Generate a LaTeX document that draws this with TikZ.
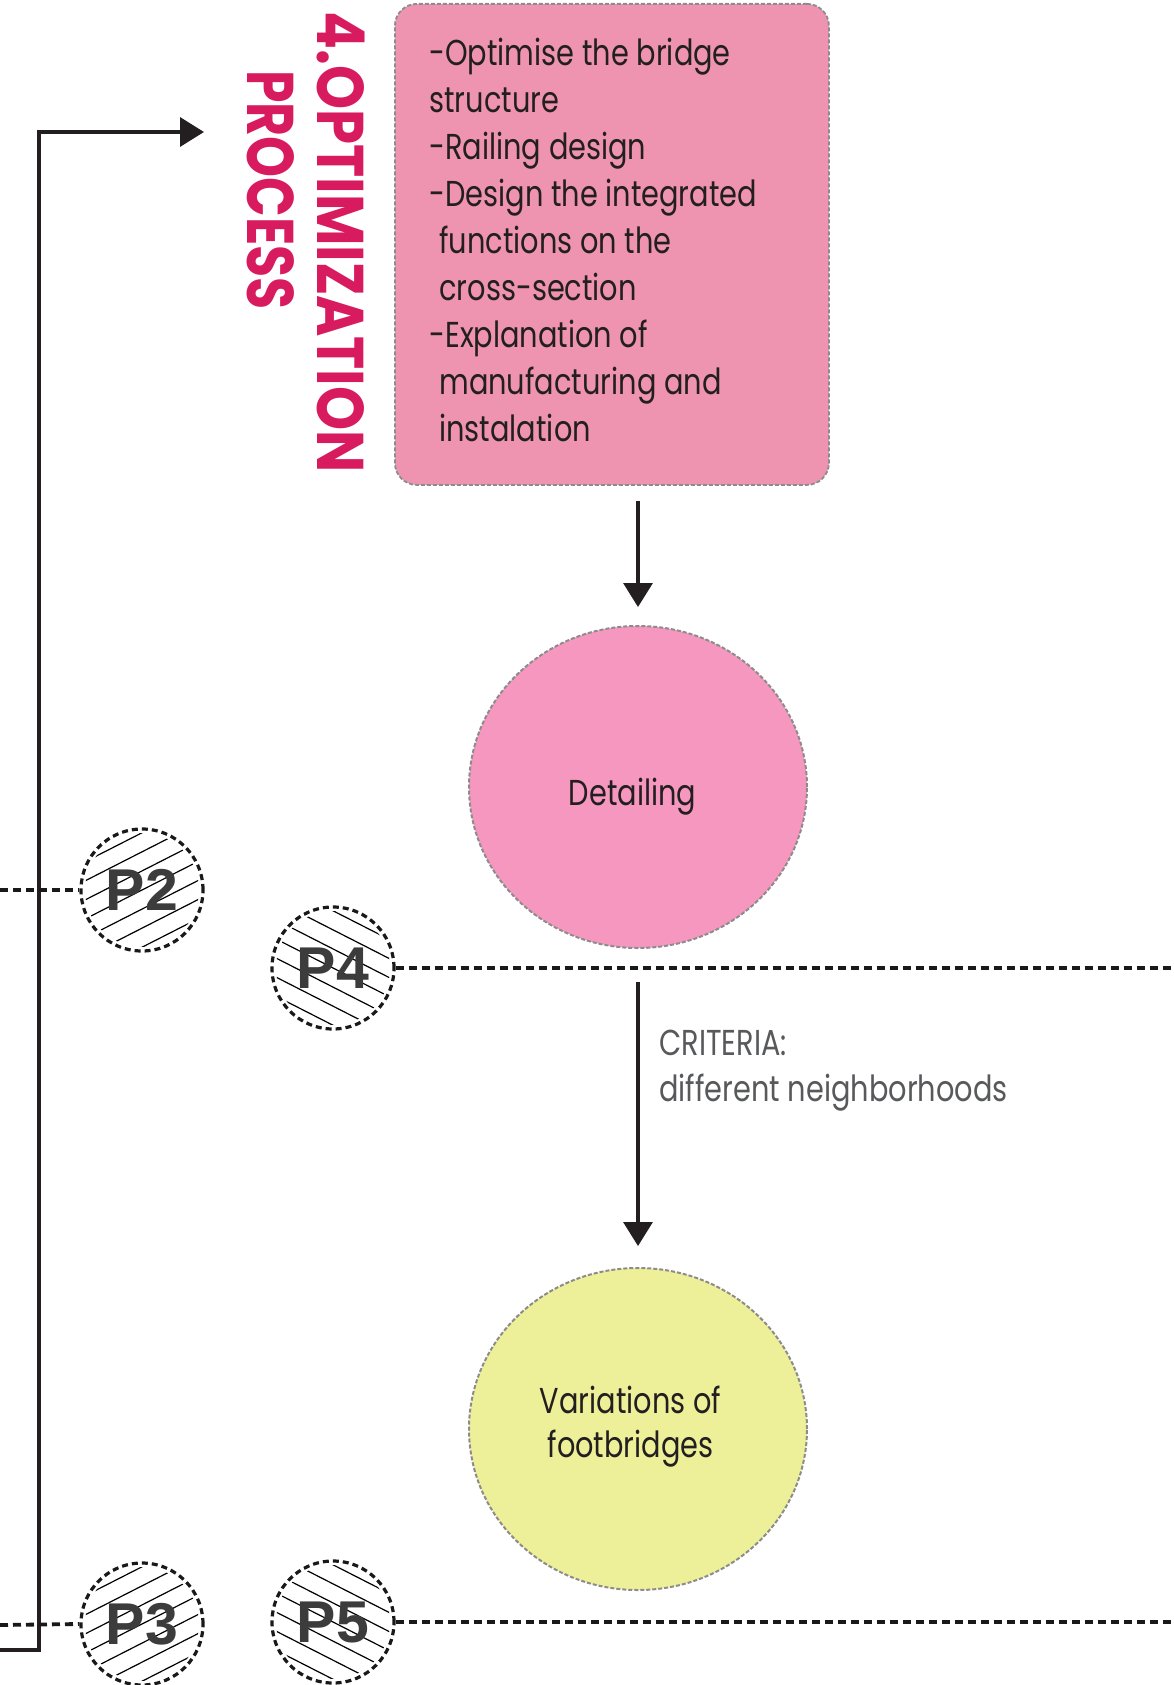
\documentclass[tikz,border=0pt]{standalone}
\usepackage{fontspec}
\setmainfont{Poppins}[FakeStretch=0.80]
\newfontfamily\titlefontA{Poppins}[FakeStretch=0.85]
\newfontfamily\titlefontB{Poppins}[FakeStretch=0.79]
\newfontfamily\pfont{Liberation Sans}
\usetikzlibrary{shapes.geometric,arrows.meta}
\definecolor{boxpink}{HTML}{EE94B0}
\definecolor{detpink}{HTML}{F697C0}
\definecolor{varyel}{HTML}{EDF098}
\definecolor{titlered}{HTML}{D81B5E}
\definecolor{txt}{HTML}{231F20}
\definecolor{crit}{HTML}{58595B}
\definecolor{ptxt}{HTML}{3C3C3C}
\definecolor{bordergray}{HTML}{8C8C8C}
\tikzset{
  arr/.style={line width=1.7pt, draw=txt, -{Triangle[length=12pt,width=14.5pt]}},
  dotline/.style={line width=1.9pt, draw=black!90, dash pattern=on 4pt off 2.5pt},
  pcirc/.style={circle, draw=black!90, line width=1.6pt, dash pattern=on 3pt off 2pt, minimum size=61pt, inner sep=0pt},
  hatch/.style={line width=0.6pt, draw=black},
  bigell/.style={ellipse, draw=bordergray, line width=1pt, dash pattern=on 2pt off 1pt, minimum width=169pt, minimum height=161pt, inner sep=0pt},
  maintext/.style={font=\fontsize{18}{23.5}\selectfont, text=txt, inner sep=0pt},
  ptext/.style={font=\pfont\bfseries\fontsize{29.5}{30}\selectfont, text=ptxt, inner sep=0pt},
  titletext/.style={text=titlered, inner sep=0pt, rotate=-90, anchor=base west}
}
\begin{document}
\begin{tikzpicture}[x=0.5pt,y=-0.5pt]
\useasboundingbox (0,0) rectangle (1173,1685);
% box
\node[draw=bordergray, fill=boxpink, rounded corners=11pt, dash pattern=on 2pt off 1pt, line width=0.9pt, minimum width=217pt, minimum height=240.5pt, anchor=north west, inner sep=0pt] (box) at (394,3) {};
\node[maintext, anchor=base west, align=left] (boxtext) at (429,441.7) {-Optimise the bridge\\
structure\\
-Railing design\\
-Design the integrated\\
\hspace*{5pt}functions on the\\
\hspace*{5pt}cross-section\\
-Explanation of\\
\hspace*{5pt}manufacturing and\\
\hspace*{5pt}instalation};
% title
\node[titletext, font=\titlefontA\bfseries\fontsize{33}{33}\selectfont] (title1) at (317,11) {4.OPTIMIZATION};
\node[titletext, font=\titlefontB\bfseries\fontsize{33}{33}\selectfont] (title2) at (247,70) {PROCESS};
% circles
\node[bigell, fill=detpink] (detailing) at (638,787) {};
\node[maintext, anchor=base] (detailingtext) at (632.5,805) {Detailing};
\node[bigell, fill=varyel] (variations) at (638,1429) {};
\node[maintext, anchor=base, align=center, font=\fontsize{18}{22}\selectfont] (variationstext) at (630.5,1457) {Variations of\\footbridges};
% criteria
\node[maintext, text=crit, anchor=base west, align=left, font=\fontsize{18}{23}\selectfont] (criteria) at (659,1101) {CRITERIA:\\different neighborhoods};
% arrows
\draw[arr] ([yshift=-7.5pt]detailing.north |- box.south) -- ([yshift=9pt]detailing.north);
\draw[arr] ([yshift=-16.5pt]detailing.south) -- ([yshift=10.5pt]variations.north);
% P circles
\node[pcirc] (p2) at (142,890) {};
\node[pcirc] (p4) at (333,968) {};
\node[pcirc] (p3) at (142,1624) {};
\node[pcirc] (p5) at (333,1622) {};
% left frame line with arrow
\coordinate (frameend) at (0,1650);
\coordinate (framecorner) at (39,1650);
\coordinate (frametop) at (39,132);
\coordinate (frametip) at (204,132);
\draw[arr] (frameend) -- (framecorner) -- (frametop) -- (frametip);
% dotted lines
\coordinate (l2) at (0,890);
\coordinate (r4) at (1173,968);
\coordinate (l3) at (0,1625);
\coordinate (r5) at (1173,1622);
\draw[dotline] (l2) -- (p2.west);
\draw[dotline] (p4.east) -- (r4);
\draw[dotline] (l3) -- (p3.west);
\draw[dotline] (p5.east) -- (r5);
% hatching
\foreach \c/\a in {p2/27,p3/27,p4/-27,p5/-27}{
  \begin{scope}[shift={(\c.center)}, rotate=\a]
    \clip (0,0) circle (28.5pt);
    \foreach \k in {-3,...,3}{
      \draw[hatch] (-70,\k*17) -- (70,\k*17);
    }
  \end{scope}
}
\node[ptext] (p2t) at (p2) {P2};
\node[ptext] (p4t) at (p4) {P4};
\node[ptext] (p3t) at (p3) {P3};
\node[ptext] (p5t) at (p5) {P5};
\end{tikzpicture}
\end{document}
